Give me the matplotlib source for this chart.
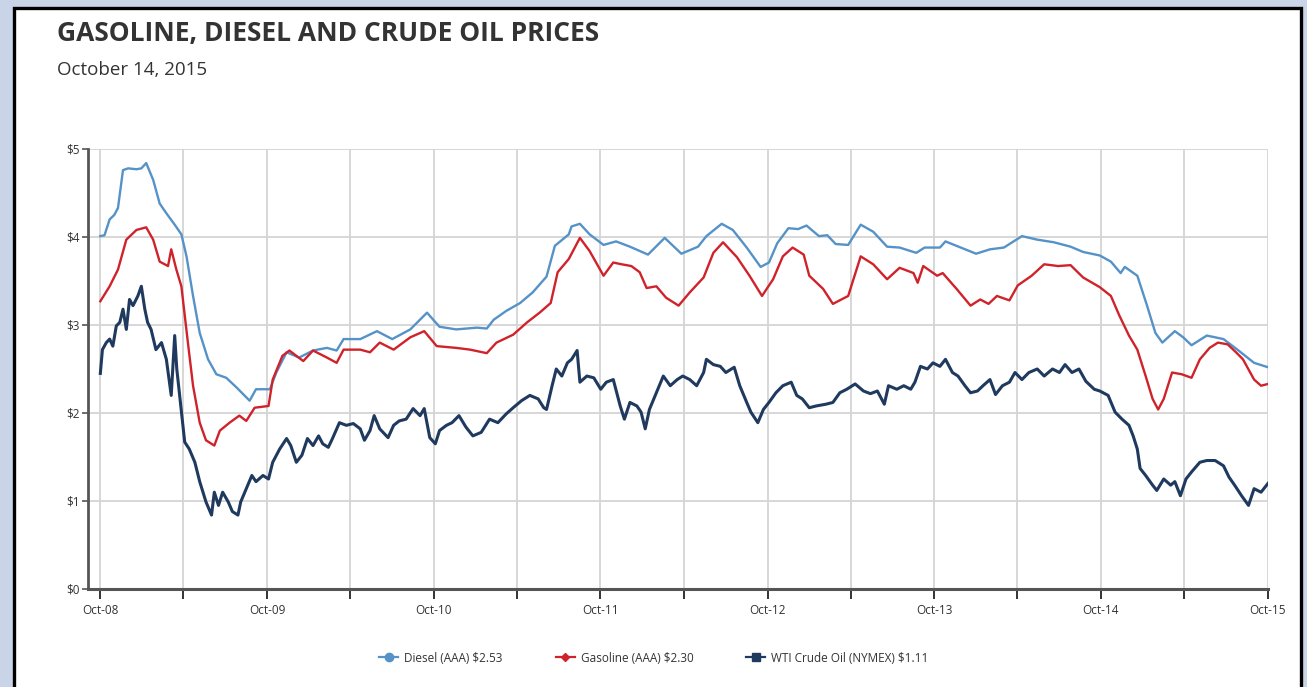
import matplotlib
matplotlib.use("Agg")
import matplotlib.pyplot as plt
from matplotlib.patches import Rectangle
import numpy as np
import pandas as pd

# ───────────────────────────── data ─────────────────────────────
# time is given in months after mid-October 2008
START = pd.Timestamp("2008-10-14")

DIESEL_M = [0, 0.3, 0.67, 1.0, 1.27, 1.63, 2.0, 2.6, 2.95, 3.3, 3.8, 4.27, 4.75, 5.35, 5.83,
            6.2, 6.67, 7.15, 7.75, 8.35, 9.06, 9.8, 10.74, 11.2, 12.2, 12.66, 13.4, 14.3,
            15.3, 16.3, 17.0, 17.5, 18.7, 19.9, 21.0, 22.3, 23.5, 24.4, 25.6, 27.1, 27.8,
            28.3, 29.2, 30.2, 31.1, 32.1, 32.7, 33.7, 33.9, 34.5, 35.2, 36.2, 37.1, 38.1,
            39.4, 40.6, 41.8, 43.0, 43.6, 44.7, 45.5, 46.5, 47.5, 48.1, 48.7, 49.5, 50.2,
            50.8, 51.7, 52.3, 52.9, 53.8, 54.7, 55.6, 56.6, 57.5, 58.7, 59.3, 60.4, 60.8,
            61.9, 63.0, 64.0, 65.0, 66.3, 67.4, 68.6, 69.8, 70.7, 71.9, 72.7, 73.4, 73.7,
            74.6, 75.3, 75.9, 76.4, 77.3, 77.9, 78.5, 79.6, 80.8, 81.8, 83.0, 84.0]
DIESEL = [4.01, 4.02, 4.20, 4.25, 4.33, 4.76, 4.78, 4.77, 4.78, 4.84, 4.65, 4.38, 4.27, 4.14,
          4.03, 3.78, 3.33, 2.91, 2.61, 2.44, 2.40, 2.29, 2.14, 2.27, 2.27, 2.46, 2.69, 2.63,
          2.71, 2.74, 2.71, 2.84, 2.84, 2.93, 2.84, 2.95, 3.14, 2.98, 2.95, 2.97, 2.96, 3.06,
          3.16, 3.25, 3.37, 3.55, 3.90, 4.03, 4.12, 4.15, 4.03, 3.91, 3.95, 3.89, 3.80, 3.99,
          3.81, 3.89, 4.01, 4.15, 4.08, 3.88, 3.66, 3.71, 3.93, 4.10, 4.09, 4.13, 4.01, 4.02,
          3.92, 3.91, 4.14, 4.06, 3.89, 3.88, 3.82, 3.88, 3.88, 3.95, 3.88, 3.81, 3.86, 3.88,
          4.01, 3.97, 3.94, 3.89, 3.83, 3.79, 3.72, 3.59, 3.66, 3.56, 3.22, 2.91, 2.80, 2.93,
          2.86, 2.77, 2.88, 2.84, 2.72, 2.57, 2.52]

GASOLINE_M = [0, 0.67, 1.27, 1.87, 2.6, 3.3, 3.8, 4.27, 4.87, 5.1, 5.47, 5.83, 6.3, 6.67,
              7.15, 7.6, 8.2, 8.6, 9.3, 10.0, 10.5, 11.1, 12.1, 12.4, 13.1, 13.6, 14.6, 15.3,
              16.3, 17.0, 17.5, 18.7, 19.4, 20.1, 21.1, 22.3, 23.3, 24.2, 25.6, 26.6, 27.8,
              28.5, 29.7, 30.7, 31.6, 32.4, 32.9, 33.7, 34.5, 35.2, 36.2, 36.9, 37.5, 38.2,
              38.8, 39.3, 40.0, 40.7, 41.6, 42.4, 43.4, 44.1, 44.8, 45.8, 46.7, 47.6, 48.4,
              49.1, 49.8, 50.6, 51.0, 52.0, 52.7, 53.8, 54.7, 55.6, 56.6, 57.5, 58.5, 58.8,
              59.2, 60.2, 60.6, 61.6, 62.6, 63.3, 63.9, 64.5, 65.4, 66.0, 67.0, 67.9, 68.9,
              69.8, 70.7, 71.9, 72.7, 73.3, 74.0, 74.6, 75.2, 75.7, 76.1, 76.5, 77.1, 77.8,
              78.5, 79.1, 79.8, 80.4, 81.1, 81.7, 82.2, 83.0, 83.5, 84.0]
GASOLINE = [3.27, 3.44, 3.63, 3.97, 4.08, 4.11, 3.97, 3.72, 3.67, 3.86, 3.63, 3.44, 2.80, 2.31,
            1.89, 1.69, 1.63, 1.80, 1.89, 1.97, 1.91, 2.06, 2.08, 2.38, 2.65, 2.71, 2.59, 2.71,
            2.63, 2.57, 2.72, 2.72, 2.69, 2.80, 2.72, 2.86, 2.93, 2.76, 2.74, 2.72, 2.68, 2.80,
            2.89, 3.03, 3.14, 3.25, 3.60, 3.75, 3.99, 3.84, 3.56, 3.71, 3.69, 3.67, 3.60, 3.42,
            3.44, 3.31, 3.22, 3.37, 3.54, 3.82, 3.94, 3.77, 3.56, 3.33, 3.52, 3.78, 3.88, 3.80,
            3.56, 3.41, 3.24, 3.33, 3.78, 3.69, 3.52, 3.65, 3.59, 3.48, 3.67, 3.56, 3.59, 3.41,
            3.22, 3.29, 3.24, 3.33, 3.28, 3.45, 3.56, 3.69, 3.67, 3.68, 3.54, 3.43, 3.33, 3.11,
            2.88, 2.72, 2.42, 2.16, 2.04, 2.16, 2.46, 2.44, 2.40, 2.61, 2.74, 2.80, 2.78, 2.69,
            2.61, 2.38, 2.31, 2.33]

WTI_M = [0, 0.15, 0.43, 0.67, 0.9, 1.15, 1.4, 1.63, 1.87, 2.1, 2.35, 2.7, 2.95, 3.2, 3.4,
         3.65, 4.0, 4.4, 4.75, 5.1, 5.35, 5.5, 5.76, 6.07, 6.4, 6.8, 7.15, 7.6, 8.0, 8.2, 8.5,
         8.8, 9.2, 9.5, 9.9, 10.1, 10.5, 10.9, 11.2, 11.7, 12.1, 12.4, 12.9, 13.4, 13.7, 14.1,
         14.5, 14.9, 15.3, 15.7, 16.0, 16.4, 16.7, 17.2, 17.7, 18.2, 18.7, 19.0, 19.4, 19.7,
         20.1, 20.7, 21.1, 21.5, 22.0, 22.5, 23.0, 23.3, 23.7, 24.1, 24.4, 24.9, 25.3, 25.8,
         26.3, 26.8, 27.4, 28.0, 28.6, 29.2, 29.7, 30.3, 30.9, 31.5, 31.9, 32.1, 32.5, 32.8,
         33.2, 33.6, 33.9, 34.3, 34.5, 35.0, 35.5, 36.0, 36.4, 36.9, 37.4, 37.7, 38.1, 38.6,
         38.9, 39.2, 39.5, 40.0, 40.5, 41.0, 41.5, 41.9, 42.4, 42.9, 43.4, 43.6, 44.1, 44.6,
         45.0, 45.6, 46.0, 46.5, 46.8, 47.3, 47.7, 48.1, 48.6, 49.1, 49.7, 50.1, 50.5, 51.0,
         51.5, 52.2, 52.7, 53.2, 53.7, 54.3, 54.9, 55.4, 55.9, 56.4, 56.7, 57.3, 57.8, 58.3,
         58.6, 59.0, 59.5, 59.9, 60.4, 60.8, 61.3, 61.7, 62.2, 62.6, 63.1, 63.5, 64.0, 64.4,
         64.9, 65.4, 65.8, 66.3, 66.8, 67.4, 67.9, 68.5, 69.0, 69.4, 69.9, 70.4, 70.9, 71.5,
         71.9, 72.5, 73.0, 73.5, 74.0, 74.3, 74.6, 74.8, 75.2, 75.7, 76.0, 76.5, 77.0, 77.3,
         77.7, 78.1, 78.5, 79.1, 79.6, 80.2, 80.8, 81.2, 81.6, 82.1, 82.6, 83.0, 83.5, 84.0]
WTI = [2.45, 2.72, 2.80, 2.84, 2.76, 2.99, 3.03, 3.18, 2.95, 3.29, 3.22, 3.33, 3.44, 3.18,
       3.03, 2.95, 2.72, 2.80, 2.61, 2.20, 2.88, 2.50, 2.12, 1.67, 1.59, 1.44, 1.22, 0.99,
       0.84, 1.10, 0.95, 1.10, 0.99, 0.88, 0.84, 0.99, 1.14, 1.29, 1.22, 1.29, 1.25, 1.44,
       1.59, 1.71, 1.63, 1.44, 1.52, 1.71, 1.63, 1.74, 1.65, 1.61, 1.71, 1.89, 1.86, 1.88,
       1.82, 1.69, 1.80, 1.97, 1.82, 1.72, 1.86, 1.91, 1.93, 2.05, 1.97, 2.05, 1.72, 1.65,
       1.80, 1.86, 1.89, 1.97, 1.84, 1.74, 1.78, 1.93, 1.89, 1.99, 2.06, 2.14, 2.20, 2.16,
       2.06, 2.04, 2.31, 2.50, 2.42, 2.57, 2.61, 2.71, 2.35, 2.42, 2.40, 2.27, 2.35, 2.38,
       2.08, 1.93, 2.12, 2.08, 2.01, 1.82, 2.04, 2.23, 2.42, 2.31, 2.38, 2.42, 2.38, 2.31,
       2.46, 2.61, 2.55, 2.53, 2.46, 2.52, 2.31, 2.12, 2.01, 1.89, 2.04, 2.12, 2.23, 2.31,
       2.35, 2.20, 2.16, 2.06, 2.08, 2.10, 2.12, 2.23, 2.27, 2.33, 2.25, 2.22, 2.25, 2.10,
       2.31, 2.27, 2.31, 2.27, 2.35, 2.53, 2.50, 2.57, 2.53, 2.61, 2.46, 2.42, 2.31, 2.23,
       2.25, 2.31, 2.38, 2.21, 2.31, 2.35, 2.46, 2.38, 2.46, 2.50, 2.42, 2.50, 2.46, 2.55,
       2.46, 2.50, 2.36, 2.27, 2.25, 2.20, 2.01, 1.93, 1.86, 1.74, 1.59, 1.37, 1.29, 1.18,
       1.12, 1.25, 1.18, 1.22, 1.06, 1.25, 1.33, 1.44, 1.46, 1.46, 1.40, 1.27, 1.18, 1.06,
       0.95, 1.14, 1.10, 1.20]

SERIES_LABELS = ["Diesel (AAA) $2.53", "Gasoline (AAA) $2.30", "WTI Crude Oil (NYMEX) $1.11"]
Y_TICKS = [0, 1, 2, 3, 4, 5]
X_TICK_YEARS = list(range(2008, 2016))

TITLE = "GASOLINE, DIESEL AND CRUDE OIL PRICES"
SUBTITLE = "October 14, 2015"

# ────────────────────────────── styling ──────────────────────────────
C_DIESEL = "#5592c8"
C_GAS = "#d0222b"
C_WTI = "#1f3a5e"
C_TEXT = "#333333"
C_AXIS = "#555555"
C_GRID = "#d4d4d4"
C_BACK = "#c9d4e8"

plt.rcParams["font.family"] = ["Open Sans", "DejaVu Sans"]


def _to_dates(months):
    return START + pd.to_timedelta(np.asarray(months) * 30.44, unit="D")


def main() -> None:
    fig = plt.figure(figsize=(13.07, 6.87), dpi=100)
    fig.patch.set_facecolor(C_BACK)

    # white card with black border, kept behind the axes
    card = Rectangle((14 / 1307, -0.05), (1301 - 14) / 1307, 1.05 - 7.5 / 687,
                     transform=fig.transFigure, facecolor="white",
                     edgecolor="black", linewidth=2.4, zorder=-10)
    fig.patches.append(card)

    fig.text(57 / 1307, 1 - 33 / 687, TITLE, fontsize=19, fontweight="bold",
             color=C_TEXT, va="center", ha="left")
    fig.text(57 / 1307, 1 - 70 / 687, SUBTITLE, fontsize=13.5, color=C_TEXT,
             va="center", ha="left")

    ax = fig.add_axes([88 / 1307, 1 - 589 / 687, (1268 - 88) / 1307, (589 - 149) / 687])
    ax.set_facecolor("white")

    ax.plot(_to_dates(DIESEL_M), DIESEL, color=C_DIESEL, lw=1.7,
            label=SERIES_LABELS[0], zorder=3)
    ax.plot(_to_dates(GASOLINE_M), GASOLINE, color=C_GAS, lw=1.7,
            label=SERIES_LABELS[1], zorder=4)
    ax.plot(_to_dates(WTI_M), WTI, color=C_WTI, lw=2.2,
            label=SERIES_LABELS[2], zorder=5)

    oct_ticks = [pd.Timestamp(f"{y}-10-14") for y in X_TICK_YEARS]
    apr_ticks = [pd.Timestamp(f"{y}-04-14") for y in X_TICK_YEARS[1:]]
    ax.set_xticks(oct_ticks)
    ax.set_xticklabels([f"Oct-{str(y)[2:]}" for y in X_TICK_YEARS])
    ax.set_xticks(apr_ticks, minor=True)
    ax.set_xlim(oct_ticks[0] - pd.Timedelta(days=27), oct_ticks[-1] + pd.Timedelta(days=1))

    ax.set_ylim(0, 5)
    ax.set_yticks(Y_TICKS)
    ax.set_yticklabels([f"${v}" for v in Y_TICKS])

    ax.grid(True, which="both", axis="x", color=C_GRID, lw=1.3, zorder=0)
    ax.grid(True, which="major", axis="y", color=C_GRID, lw=1.3, zorder=0)
    ax.set_axisbelow(True)

    for side in ("top", "right"):
        ax.spines[side].set_visible(False)
    ax.spines["left"].set_color(C_AXIS)
    ax.spines["left"].set_linewidth(2.0)
    ax.spines["bottom"].set_color(C_AXIS)
    ax.spines["bottom"].set_linewidth(2.2)

    ax.tick_params(axis="x", which="both", direction="out", length=7, width=1.4,
                   color="#333333", labelsize=8.5, labelcolor=C_TEXT, pad=4)
    ax.tick_params(axis="y", which="major", direction="out", length=4, width=1.2,
                   color=C_AXIS, labelsize=8.5, labelcolor=C_TEXT, pad=2)

    # legend with visible markers
    handles = [
        plt.Line2D([], [], color=C_DIESEL, lw=1.6, marker="o", markersize=6),
        plt.Line2D([], [], color=C_GAS, lw=1.6, marker="D", markersize=4.5),
        plt.Line2D([], [], color=C_WTI, lw=1.6, marker="s", markersize=6),
    ]
    fig.legend(handles, SERIES_LABELS, loc="center", ncol=3, frameon=False,
               bbox_to_anchor=(654 / 1307, 1 - 658 / 687), fontsize=8.5,
               handlelength=1.6, handletextpad=0.5, columnspacing=4.5,
               labelcolor=C_TEXT)

    fig.savefig("out.png", dpi=100, facecolor=fig.get_facecolor())


if __name__ == "__main__":
    main()
